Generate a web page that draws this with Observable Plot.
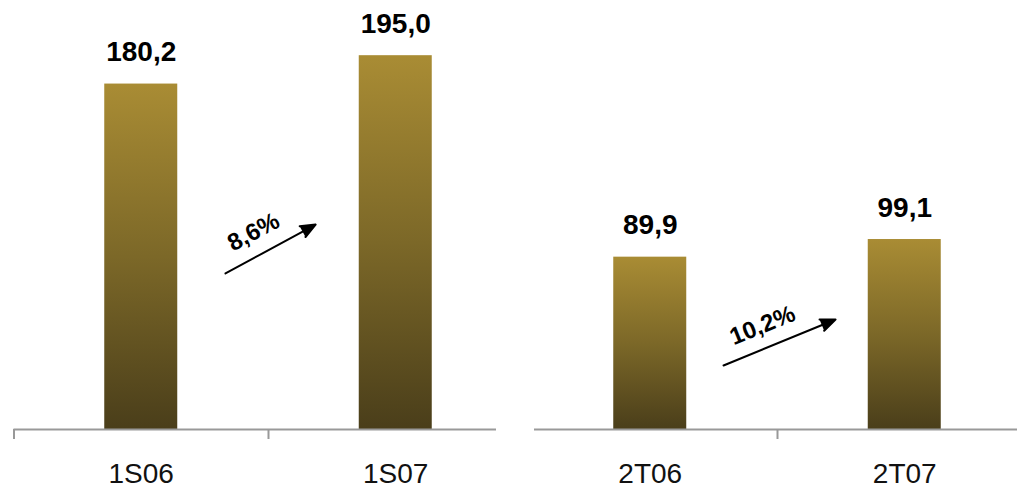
<!DOCTYPE html>
<html>
<head>
<meta charset="utf-8">
<script src="https://cdn.jsdelivr.net/npm/d3@7"></script>
<script src="https://cdn.jsdelivr.net/npm/@observablehq/plot@0.6"></script>
<style>
  html, body { margin: 0; padding: 0; background: #fff; }
  #chart { width: 1017px; height: 487px; overflow: hidden; }
</style>
</head>
<body>
<div id="chart"></div>
<script>
// ---- data ----
const categories = ["1S06", "1S07", "2T06", "2T07"];
const values = [180.2, 195.0, 89.9, 99.1];
const valueLabels = ["180,2", "195,0", "89,9", "99,1"];
// growth annotations (arrow between two periods)
const growthLabels = ["8,6%", "10,2%"];
const growthFrom = ["1S06", "2T06"];
const growthTo = ["1S07", "2T07"];
// annotation placement (data units: x in category index, y in value units)
const arrowX1 = [0.331, 2.288];
const arrowX2 = [0.685, 2.728];
const arrowY1 = [81.4, 33.4];
const arrowY2 = [106.9, 57.4];
const labelAngle = [-28, -22];
// axis groups and tick boundaries
const tickAtLeftOf = ["1S06", "1S07", "2T07"];
const groups = [["1S06", "1S07"], ["2T06", "2T07"]];

// ---- build tables ----
const idx = c => categories.indexOf(c);
const bars = categories.map((c, i) => ({cat: c, i, value: values[i], label: valueLabels[i]}));
const arrows = growthLabels.map((g, k) => ({
  label: g, x1: arrowX1[k], x2: arrowX2[k], y1: arrowY1[k], y2: arrowY2[k], angle: labelAngle[k]
}));
const ticks = tickAtLeftOf.map(c => ({x: idx(c) - 0.5}));

const pxPerUnit = 1.917;
const zeroY = 429;
const tickLen = 10 / pxPerUnit;
const font = "Liberation Sans, Arial, Helvetica, sans-serif";

const plot = Plot.plot({
  width: 1017,
  height: 487,
  margin: 0,
  style: {fontFamily: font, background: "#fff", overflow: "visible"},
  x: {type: "linear", domain: [-0.5, 3.5], range: [13.5, 1031.5], axis: null},
  y: {domain: [0, 200], range: [zeroY, zeroY - 200 * pxPerUnit], axis: null},
  marks: [
    Plot.rectY(bars, {
      x1: d => d.i - 0.5, x2: d => d.i + 0.5, y1: 0, y2: "value",
      fill: "url(#barGrad)", insetLeft: 90.75, insetRight: 90.75
    }),
    // axis baselines per group
    Plot.ruleY([groups[0]], {
      y: () => 0, x1: g => idx(g[0]) - 0.5, x2: g => idx(g[1]) + 0.5,
      stroke: "#999", strokeWidth: 2, insetRight: 26.5
    }),
    Plot.ruleY([groups[1]], {
      y: () => 0, x1: g => idx(g[0]) - 0.5, x2: g => idx(g[1]) + 0.5,
      stroke: "#999", strokeWidth: 2, insetLeft: 11.5
    }),
    Plot.ruleX(ticks, {x: "x", y1: 0, y2: -tickLen, stroke: "#999", strokeWidth: 2}),
    // category labels
    Plot.text(bars, {
      x: "i", y: () => 0, text: "cat", dy: 53, lineAnchor: "bottom",
      fontSize: 28, fill: "#111"
    }),
    // value labels
    Plot.text(bars, {
      x: "i", y: "value", text: "label", dy: -23, lineAnchor: "bottom",
      fontSize: 28, fontWeight: "bold", fill: "#000"
    }),
    // growth arrows
    Plot.arrow(arrows, {
      x1: "x1", y1: "y1", x2: "x2", y2: "y2",
      stroke: "#000", fill: "#000", strokeWidth: 2, headLength: 12, headAngle: 45
    }),
    Plot.text(arrows, {
      x: d => (d.x1 + d.x2) / 2, y: d => (d.y1 + d.y2) / 2, text: "label",
      rotate: "angle", dx: -17, dy: -17, fontSize: 24, fontWeight: "bold", fill: "#000"
    })
  ]
});

// gradient definition for the bars
const svg = d3.select(plot.tagName.toLowerCase() === "svg" ? plot : plot.querySelector("svg"));
const grad = svg.insert("defs", ":first-child").append("linearGradient")
  .attr("id", "barGrad").attr("x1", 0).attr("y1", 0).attr("x2", 0).attr("y2", 1);
grad.append("stop").attr("offset", "0%").attr("stop-color", "#a98c34");
grad.append("stop").attr("offset", "50%").attr("stop-color", "#7c6828");
grad.append("stop").attr("offset", "100%").attr("stop-color", "#4a3e1a");

document.getElementById("chart").appendChild(plot);
</script>
</body>
</html>
